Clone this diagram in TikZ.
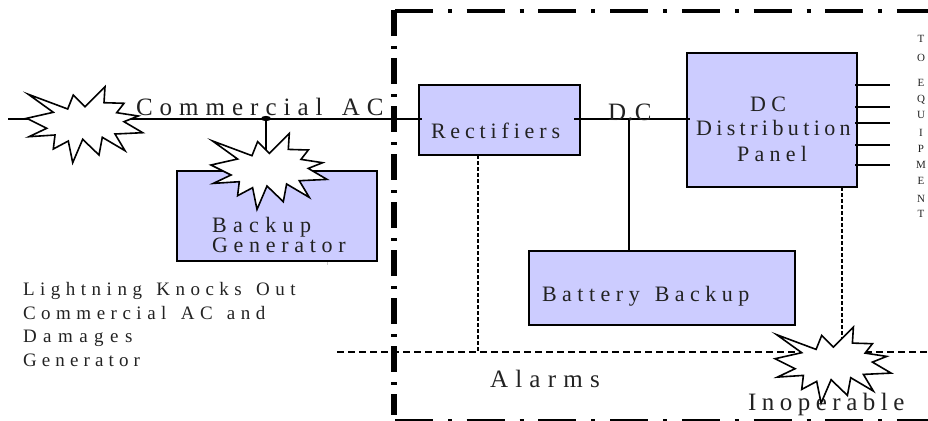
\documentclass[tikz,border=0pt]{standalone}
\usepackage{fontspec}
\setmainfont{Liberation Serif}
\definecolor{boxblue}{HTML}{CCCCFF}
\definecolor{txt}{HTML}{222222}
\newcommand\spc[2]{{\addfontfeature{LetterSpace=#1}#2}}
\newcommand\wgap[1]{\hspace*{#1}}
\newcommand\burst[1]{\draw[burstline,shift={#1}] (28.3,94.3)--(67.7,109)--(73.3,95)--(85,106.7)--(105,86.7)--(104,102.7)--(124,103.3)--(116.7,112.7)--(138.3,116)--(124,121.7)--(142.7,132.7)--(115,134)--(125,150.7)--(102.3,137.3)--(99,155)--(82.7,139.3)--(72.7,162.7)--(68.3,141)--(53.3,149)--(55,135)--(29,136.7)--(46.7,128.3)--(26.7,118.3)--(53.3,112.3)--cycle;}
\tikzset{
  panelbox/.style={draw=black,fill=boxblue,line width=2pt,anchor=north west,inner sep=0pt,outer sep=0pt},
  wire/.style={line width=2pt,black},
  burstline/.style={draw=black,fill=white,line width=1.6pt,line join=miter,miter limit=10},
  alarmline/.style={line width=1.6pt,black,dash pattern=on 7pt off 4pt},
  dotline/.style={line width=1.5pt,black,dash pattern=on 3.5pt off 2.5pt},
  framev/.style={line width=6pt,black,dash pattern=on 26pt off 10pt on 3pt off 9pt},
  frameh/.style={line width=4pt,black,dash pattern=on 38pt off 15pt on 4pt off 14.7pt},
  lbl/.style={anchor=base west,inner sep=0pt,outer sep=0pt,text=txt,font=\fontsize{22}{22}\selectfont},
  biglbl/.style={lbl,font=\fontsize{25}{25}\selectfont},
  smalllbl/.style={lbl,font=\fontsize{19}{19}\selectfont},
  eqlbl/.style={anchor=base,inner sep=0pt,outer sep=0pt,text=txt,font=\fontsize{11}{11}\selectfont},
}
\begin{document}
\begin{tikzpicture}[x=1pt,y=-1pt]
\useasboundingbox (0,0) rectangle (928,420);
% boxes
\node[panelbox,minimum width=161pt,minimum height=70pt] (rect) at (418.5,85) {};
\node[panelbox,minimum width=170pt,minimum height=134pt] (dist) at (687,53) {};
\node[panelbox,minimum width=200pt,minimum height=90pt] (gen) at (177,171) {};
\node[panelbox,minimum width=266pt,minimum height=74pt] (batt) at (529,251) {};
% frame
\coordinate (ftl) at (394,10);
\coordinate (fbl) at (394,415);
\coordinate (fth) at (395,11);
\coordinate (ftr) at (928,11);
\coordinate (fbh) at (395,421);
\coordinate (fbr) at (928,421);
\draw[framev] (ftl) -- (fbl);
\draw[frameh] (fth) -- (ftr);
\draw[frameh] (fbh) -- (fbr);
% free ends and junctions
\coordinate (acstart) at (8,119);
\coordinate (acend) at (422,119);
\coordinate (dcstart) at (574,119);
\coordinate (dcend) at (689.5,119);
\coordinate (junc) at (266,118.5);
\coordinate (dcjunc) at (629,119);
\coordinate (alarmstart) at (337,352);
\coordinate (alarmend) at (928,352);
\coordinate (r1) at (478,155);
\coordinate (r2) at (478,352);
\coordinate (d1) at (842,187);
\coordinate (d2) at (842,352);
% wires
\draw[wire] (acstart) -- (acend);
\draw[wire] (dcstart) -- (dcend);
\draw[wire] (dcjunc) -- (dcjunc |- batt.north);
\draw[wire] (junc) -- (junc |- gen.north);
\fill[black] (junc) ellipse (5pt and 2.6pt);
\draw[alarmline] (alarmstart) -- (alarmend);
\draw[dotline] (r1) -- (r2);
\draw[dotline] (d1) -- (d2);
\foreach \yy/\nm in {85/a,107/b,123/c,145/d,165/e}{
  \coordinate (o\nm s) at (855,\yy);
  \coordinate (o\nm e) at (890,\yy);
  \draw[wire] (o\nm s) -- (o\nm e);
}
\draw[gray!40,line width=0.6pt] (327,262) -- (327,265);
% labels
\node[biglbl] (lac) at (136,115) {\spc{28}{Commercial \wgap{6pt}AC}};
\node[lbl] (lrect) at (431,138) {\spc{22}{Rectifiers}};
\node[lbl] (lback) at (212,232.5) {\spc{29}{Backup}};
\node[lbl] (lgen) at (212,252.5) {\spc{26}{Generator}};
\node[lbl] (ldc) at (750,111) {D C};
\node[lbl] (ldist) at (696,135) {\spc{20}{Distribution}};
\node[lbl] (lpanel) at (737,161) {\spc{24}{Panel}};
\node[biglbl] (ldcv) at (608,120) {\spc{5}{D.C}};
\node[lbl] (lbatt) at (542,301) {\spc{25}{Battery \wgap{4pt}Backup}};
\node[biglbl] (lalarm) at (490,387) {\spc{29}{Alarms}};
\node[biglbl] (linop) at (748,410.5) {\spc{22}{Inoperable}};
\node[smalllbl] (n1) at (23,295) {\spc{29}{Lightning \wgap{4pt}Knocks \wgap{4pt}Out}};
\node[smalllbl] (n2) at (23,319.3) {\spc{29}{Commercial \wgap{4pt}AC \wgap{4pt}and}};
\node[smalllbl] (n3) at (23,342.7) {\spc{34}{Damages}};
\node[smalllbl] (n4) at (23,366.7) {\spc{27}{Generator}};
\foreach \ch/\yy/\nm in {T/42/a,O/61/b,E/86/c,Q/102/d,U/118/e,I/136/f,P/152/g,M/168/h,E/184/i,N/202/j,T/217/k}{
  \node[eqlbl] (eq\nm) at (921,\yy) {\ch};
}
% bursts
\burst{(0,0)}
\burst{(184.3,46.7)}
\burst{(748.4,240.4)}
\end{tikzpicture}
\end{document}
